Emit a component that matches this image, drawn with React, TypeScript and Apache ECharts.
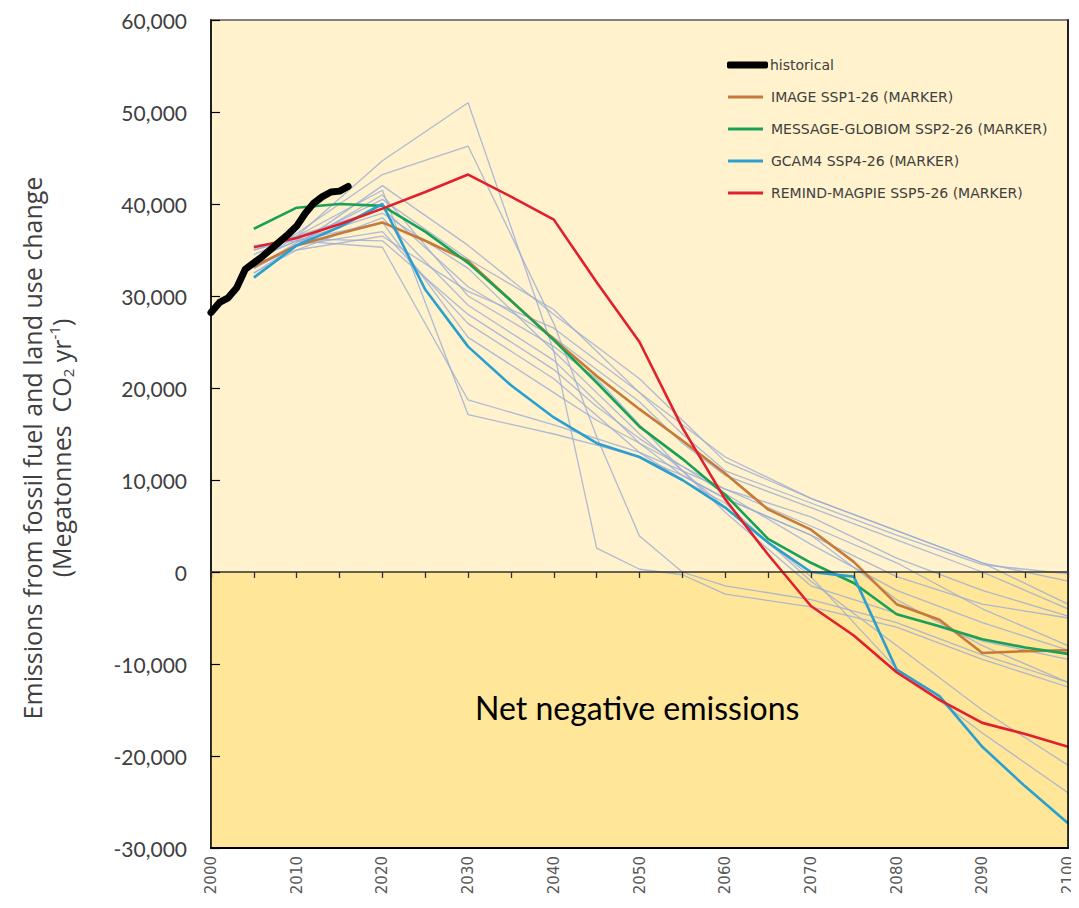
import { useEffect, useRef } from "react";
import * as echarts from "echarts";

// ---- data ----
const historicalYears = [2000, 2001, 2002, 2003, 2004, 2005, 2006, 2007, 2008, 2009, 2010, 2011, 2012, 2013, 2014, 2015, 2016];
const historicalValues = [28200, 29300, 29800, 30900, 32900, 33600, 34300, 35100, 35900, 36700, 37600, 39000, 40100, 40800, 41300, 41400, 41900];

const markerYears = [2005, 2010, 2015, 2020, 2025, 2030, 2035, 2040, 2045, 2050, 2055, 2060, 2065, 2070, 2075, 2080, 2085, 2090, 2095, 2100];
const imageSsp126 = [33200, 35500, 36800, 38000, 36000, 33800, 29500, 25300, 21300, 17700, 14300, 10700, 6800, 4600, 1100, -3500, -5200, -8800, -8600, -8500];
const messageSsp226 = [37300, 39600, 40000, 39800, 37000, 33600, 29500, 25200, 20600, 15800, 12300, 8400, 3600, 1000, -1200, -4600, -5900, -7300, -8200, -8900];
const gcam4Ssp426 = [32000, 35500, 37500, 40000, 30700, 24500, 20300, 16800, 14000, 12500, 10000, 7000, 3200, 0, -500, -10600, -13500, -19000, -23300, -27300];
const remindSsp526 = [35300, 36300, 37800, 39500, 41300, 43200, 40800, 38300, 31500, 25000, 15700, 7900, 1900, -3700, -6900, -10900, -13900, -16400, -17600, -19000];

const scenarioYears = [2005, 2010, 2020, 2030, 2040, 2045, 2050, 2055, 2060, 2070, 2080, 2090, 2100];
const scenarioA = [33500, 36500, 44700, 51000, 24000, 2600, 300, -300, -2400, -3800, -6000, -9500, -12500];
const scenarioB = [34000, 36800, 43200, 46300, 27000, 14700, 3900, 0, -1500, -3000, -5500, -9000, -12000];
const scenarioC = [32500, 35500, 42000, 35500, 28000, 24500, 21000, 16500, 12000, 8000, 4500, 1000, -1000];
const scenarioD = [33000, 35800, 40500, 34000, 28500, 24000, 19500, 15000, 11000, 7500, 4000, 800, -200];
const scenarioE = [34500, 36500, 39500, 31000, 25500, 22000, 18500, 14000, 10500, 7000, 3500, 0, -4000];
const scenarioF = [35000, 36500, 41500, 17100, 15000, 13800, 12500, 10500, 8000, 4000, -500, -3500, -5000];
const scenarioG = [35500, 36000, 35300, 18700, 16000, 14500, 13000, 11000, 9000, 5000, 1000, -4000, -8000];
const scenarioH = [32500, 35000, 38500, 29000, 23000, 18500, 14000, 10500, 8000, 4000, -3000, -8000, -12000];
const scenarioI = [33000, 35500, 37000, 27000, 21000, 17000, 13000, 10000, 7500, -1000, -8000, -15000, -21000];
const scenarioJ = [34000, 36000, 39000, 33000, 24000, 19500, 15000, 11000, 7000, -500, -10500, -17500, -24000];
const scenarioK = [33500, 35000, 36500, 30500, 26500, 23000, 19500, 16000, 12500, 8000, 4500, 1000, -3500];
const scenarioL = [34000, 36000, 38000, 25500, 19500, 16500, 14000, 11500, 9000, 6000, 1500, -2000, -4800];
const scenarioM = [35000, 36200, 36000, 28000, 22000, 18000, 14500, 11500, 8500, 3000, -2000, -5500, -8500];
const scenarioN = [33000, 35500, 41000, 30000, 24500, 21000, 16000, 11000, 6500, -1500, -4500, -7500, -9500];
const otherScenarios = [scenarioA, scenarioB, scenarioC, scenarioD, scenarioE, scenarioF, scenarioG, scenarioH, scenarioI, scenarioJ, scenarioK, scenarioL, scenarioM, scenarioN];

const markerNames = [
  "IMAGE SSP1-26 (MARKER)",
  "MESSAGE-GLOBIOM SSP2-26 (MARKER)",
  "GCAM4 SSP4-26 (MARKER)",
  "REMIND-MAGPIE SSP5-26 (MARKER)",
];
const markerSeries = [imageSsp126, messageSsp226, gcam4Ssp426, remindSsp526];
const markerColors = ["#C67A3A", "#19A158", "#2A9FD0", "#E0202C"];

const yMin = -30000;
const yMax = 60000;
const yStep = 10000;
const xMin = 2000;
const xMax = 2100;

const pair = (xs: number[], ys: number[]) => xs.map((x, i) => [x, ys[i]]);

export default function App() {
  const ref = useRef<HTMLDivElement>(null);
  useEffect(() => {
    if (!ref.current) return;
    const chart = echarts.init(ref.current, undefined, { renderer: "svg" });
    const textColor = "#404040";
    const gridTop = 20;
    const gridBottom = 60;
    const plotH = 908 - gridTop - gridBottom;
    const zeroOffset = (plotH * yMax) / (yMax - yMin);

    const graySeries = otherScenarios.map((s, i) => ({
      type: "line",
      name: "scenario " + (i + 1),
      data: pair(scenarioYears, s),
      showSymbol: false,
      symbol: "none",
      lineStyle: { color: "rgba(155,172,214,0.8)", width: 1.3 },
      itemStyle: { color: "rgba(155,172,214,0.8)" },
      z: 2,
      silent: true,
      ...(i === 0
        ? {
            markArea: {
              silent: true,
              itemStyle: { color: "#FFE699" },
              data: [[{ yAxis: yMin }, { yAxis: 0 }]],
            },
          }
        : {}),
    }));

    const colored = markerSeries.map((s, i) => ({
      type: "line",
      name: markerNames[i],
      data: pair(markerYears, s),
      showSymbol: false,
      symbol: "none",
      lineStyle: { color: markerColors[i], width: 2.6 },
      itemStyle: { color: markerColors[i] },
      z: 3,
    }));

    const legendText = { fontFamily: "DejaVu Sans", fontSize: 14, color: textColor, lineHeight: 16 };

    const option: any = {
      animation: false,
      backgroundColor: "#ffffff",
      grid: {
        left: 211,
        right: 11,
        top: gridTop,
        bottom: gridBottom,
        show: true,
        backgroundColor: "#FFF2CC",
        borderColor: "#7f7f7f",
        borderWidth: 2,
      },
      legend: [
        {
          orient: "vertical",
          left: 722,
          top: 52,
          itemWidth: 41,
          itemHeight: 7,
          selectedMode: false,
          data: [{ name: "historical", icon: "roundRect" }],
          textStyle: { ...legendText, padding: [0, 0, 0, -3] },
        },
        {
          orient: "vertical",
          left: 723,
          top: 84,
          itemWidth: 35,
          itemHeight: 3,
          itemGap: 16,
          icon: "rect",
          selectedMode: false,
          data: markerNames,
          textStyle: { ...legendText, padding: [0, 0, 0, 3] },
        },
      ],
      xAxis: [
        {
          type: "value",
          position: "bottom",
          z: 10,
          min: xMin,
          max: xMax,
          interval: 10,
          axisLine: { onZero: false, lineStyle: { color: "#000", width: 2 } },
          axisTick: { show: false },
          splitLine: { show: false },
          axisLabel: {
            rotate: 90,
            margin: 8,
            fontFamily: "DejaVu Sans",
            fontSize: 15,
            color: "#595959",
            formatter: (v: number) => String(v),
          },
        },
        {
          type: "value",
          position: "top",
          offset: -zeroOffset,
          z: 10,
          min: xMin,
          max: xMax,
          interval: 5,
          axisLine: { show: true, onZero: false, lineStyle: { color: "#303030", width: 1.5 } },
          axisTick: { show: true, inside: true, length: 6, lineStyle: { color: "#303030", width: 1.3 } },
          axisLabel: { show: false },
          splitLine: { show: false },
        },
      ],
      yAxis: [
        {
          type: "value",
          position: "left",
          z: 10,
          min: yMin,
          max: yMax,
          interval: yStep,
          axisLine: { show: true, onZero: false, lineStyle: { color: "#000", width: 1.5 } },
          axisTick: { show: true, inside: true, length: 9, lineStyle: { color: "#000", width: 1.2 } },
          splitLine: { show: false },
          axisLabel: {
            margin: 24,
            fontFamily: "Lato",
            fontSize: 21,
            color: textColor,
            formatter: (v: number) => v.toLocaleString("en-US"),
          },
        },
        {
          type: "value",
          position: "right",
          z: 10,
          min: yMin,
          max: yMax,
          interval: yStep,
          axisLine: { show: true, onZero: false, lineStyle: { color: "#000", width: 1.5 } },
          axisTick: { show: false },
          axisLabel: { show: false },
          splitLine: { show: false },
        },
      ],
      series: [
        ...graySeries,
        ...colored,
        {
          type: "line",
          name: "historical",
          data: pair(historicalYears, historicalValues),
          showSymbol: false,
          symbol: "none",
          lineStyle: { color: "#000", width: 7, cap: "round", join: "round" },
          itemStyle: { color: "#000" },
          z: 4,
        },
      ],
      graphic: [
        {
          type: "text",
          x: 46,
          y: 448,
          rotation: Math.PI / 2,
          z: 100,
          style: {
            text:
              "{t|Emissions from fossil fuel and land use change}\n{t|(Megatonnes  CO}{sub|2}{t| yr}{sup|-1}{t|)}",
            align: "center",
            verticalAlign: "middle",
            rich: {
              t: { fontFamily: "Open Sans", fontSize: 25, fill: textColor, lineHeight: 29 },
              sub: { fontFamily: "Open Sans", fontSize: 15, fill: textColor, lineHeight: 15, verticalAlign: "bottom" },
              sup: { fontFamily: "Open Sans", fontSize: 15, fill: textColor, lineHeight: 15, verticalAlign: "top" },
            },
          },
        },
        {
          type: "text",
          left: 475,
          top: 691,
          z: 100,
          style: { text: "Net negative emissions", fontFamily: "Lato", fontSize: 32, fill: "#000" },
        },
      ],
    };
    chart.setOption(option);
    return () => chart.dispose();
  }, []);
  return <div ref={ref} style={{ width: 1079, height: 908, margin: -8 }} />;
}
